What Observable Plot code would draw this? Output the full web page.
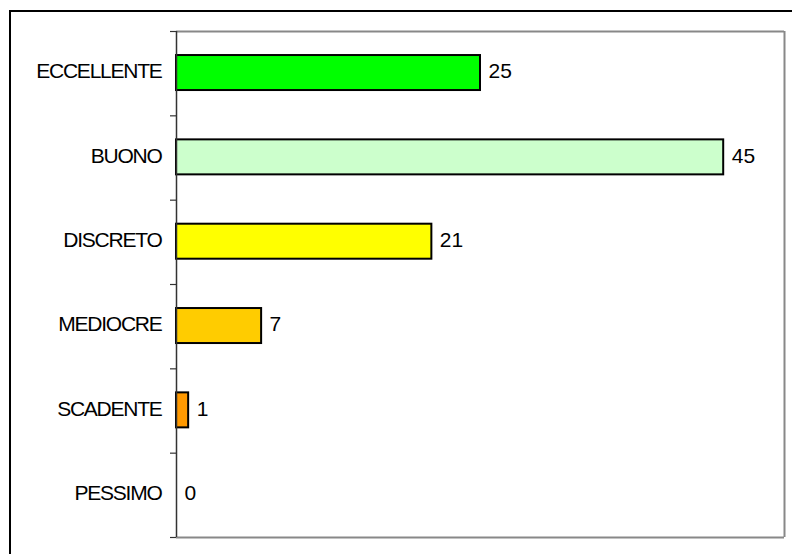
<!DOCTYPE html>
<html>
<head>
<meta charset="utf-8">
<script src="https://cdn.jsdelivr.net/npm/d3@7"></script>
<script src="https://cdn.jsdelivr.net/npm/@observablehq/plot@0.6"></script>
<style>
  html, body { margin: 0; padding: 0; background: #fff; overflow: hidden; }
  #wrap { position: relative; width: 792px; height: 554px; }
  #border { position: absolute; left: 9px; top: 10px; width: 820px; height: 600px;
            border-left: 2px solid #000; border-top: 2px solid #000; pointer-events: none; }
  #chart svg { display: block; }
</style>
</head>
<body>
<div id="wrap"><div id="chart"></div><div id="border"></div></div>
<script>
const categories = ["ECCELLENTE", "BUONO", "DISCRETO", "MEDIOCRE", "SCADENTE", "PESSIMO"];
const values = [25, 45, 21, 7, 1, 0];
const colors = ["#00FF00", "#CCFFCC", "#FFFF00", "#FFCC00", "#FF9900", "#FF6600"];
const xMax = 50;

const data = categories.map((c, i) => ({cat: c, value: values[i], idx: i, color: colors[i]}));
const barTop = 0.285, barBottom = 0.70;
const bounds = d3.range(categories.length + 1);

const plot = Plot.plot({
  width: 792,
  height: 554,
  marginLeft: 176,
  marginRight: 8,
  marginTop: 31,
  marginBottom: 17,
  style: {fontFamily: "'Liberation Sans', Arial, sans-serif", background: "transparent"},
  x: {type: "linear", domain: [0, xMax], axis: null},
  y: {type: "linear", domain: [0, categories.length], reverse: true},
  color: {type: "identity"},
  marks: [
    // plot area frame (top, right, bottom) in gray
    Plot.ruleY([0], {stroke: "#888", strokeWidth: 2}),
    Plot.ruleY([categories.length], {stroke: "#888", strokeWidth: 2}),
    Plot.ruleX([xMax], {stroke: "#888", strokeWidth: 2}),
    // bars
    Plot.rectX(data, {
      x1: 0, x2: "value",
      y1: d => d.idx + barTop, y2: d => d.idx + barBottom,
      fill: "color", stroke: "#000", strokeWidth: 2
    }),
    // left axis: ticks at category boundaries
    Plot.axisY(bounds, {tickSize: 6, tickFormat: () => "", stroke: "#333", strokeWidth: 1.2, label: null}),
    Plot.ruleX([0], {stroke: "#333", strokeWidth: 1.5}),
    // category labels
    Plot.text(data, {
      x: 0, y: d => d.idx + 0.5, text: "cat",
      textAnchor: "end", dx: -15, dy: -2,
      fontSize: 21, fill: "#000"
    }),
    // value labels
    Plot.text(data, {
      x: "value", y: d => d.idx + 0.5, text: d => String(d.value),
      textAnchor: "start", dx: 8, dy: -2,
      fontSize: 21, fill: "#000"
    })
  ]
});
plot.querySelectorAll("text").forEach(t => {
  if (categories.includes(t.textContent)) t.setAttribute("letter-spacing", "-1.25");
});
document.getElementById("chart").appendChild(plot);
</script>
</body>
</html>
